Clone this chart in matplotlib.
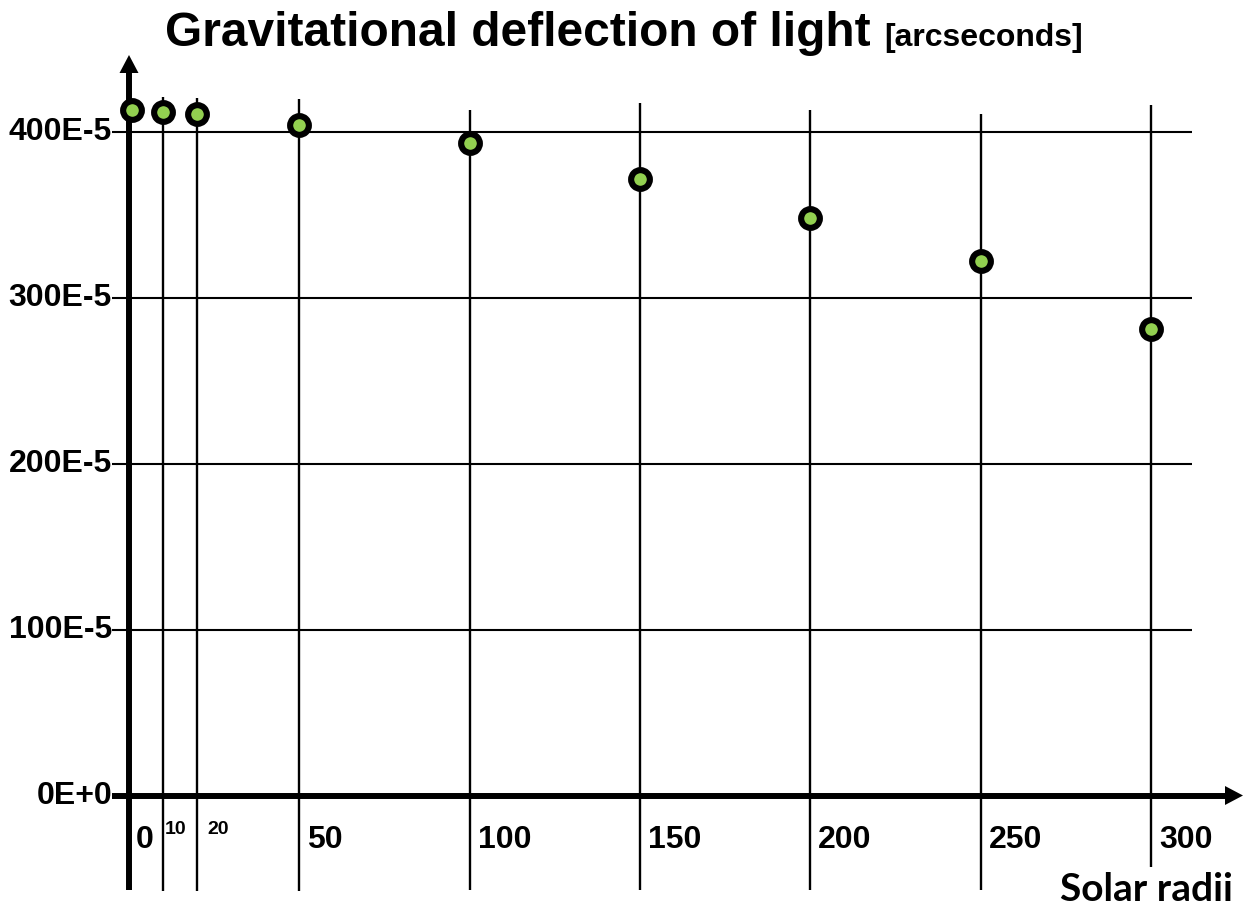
import matplotlib
matplotlib.use('Agg')
import matplotlib.pyplot as plt
from matplotlib.transforms import offset_copy

# ---- data (deflection in units of 1E-5 arcseconds) ----
x_radii = [1, 10, 20, 50, 100, 150, 200, 250, 300]
deflection = [413.2, 412.0, 411.0, 404.2, 393.7, 371.6, 348.4, 322.2, 281.1]
y_ticks = [0, 100, 200, 300, 400]
y_tick_labels = ['0E+0', '100E-5', '200E-5', '300E-5', '400E-5']
x_lines = [10, 20, 50, 100, 150, 200, 250, 300]
x_tick_values = [0, 10, 20, 50, 100, 150, 200, 250, 300]
x_tick_labels = ['0', '10', '20', '50', '100', '150', '200', '250', '300']

W, H, DPI = 1252, 908, 100
fig = plt.figure(figsize=(W / DPI, H / DPI), dpi=DPI)
ax = fig.add_axes([0, 0, 1, 1])

# linear pixel mapping of the hand-drawn axes
X0, SX = 129.0, 3.4067
Y0, SY = 795.5, 1.658
ax.set_xlim(-X0 / SX, (W - X0) / SX)
ax.set_ylim((Y0 - H) / SY, Y0 / SY)
ax.axis('off')


def dx(px):
    return (px - X0) / SX


def dy(py):
    return (Y0 - py) / SY


FONT = ['Liberation Sans', 'DejaVu Sans']
THIN = 1.5
THICK = 4.3

# horizontal grid lines
ax.hlines(y_ticks[1:], dx(112), dx(1192), color='black', lw=THIN, zorder=1)
# vertical lines
tops = [97, 98, 99, 110, 103, 110, 114, 105]
bottoms = [891, 891, 891, 890, 890, 890, 890, 867]
for xv, t, b in zip(x_lines, tops, bottoms):
    ax.vlines(xv, dy(b), dy(t), color='black', lw=1.7, zorder=1)

# y axis with arrow
ax.plot([0, 0], [dy(890), dy(70)], color='black', lw=THICK, solid_capstyle='butt', zorder=3)
ax.fill([dx(119.5), dx(138.5), dx(129)], [dy(73), dy(73), dy(55)], color='black', zorder=3, lw=0)
# x axis with arrow
ax.plot([dx(112), dx(1226)], [0, 0], color='black', lw=THICK, solid_capstyle='butt', zorder=3)
ax.fill([dx(1225), dx(1225), dx(1243)], [dy(Y0 - 9.5), dy(Y0 + 9.5), dy(Y0)], color='black', zorder=3, lw=0)

# data points
ax.plot(x_radii, deflection, linestyle='none', marker='o', ms=13.5,
        mfc='#92D050', mec='black', mew=4.4, zorder=5, clip_on=False)

# y tick labels
for yv, lab in zip(y_ticks, y_tick_labels):
    ax.text(dx(112), yv, lab, ha='right', va='center', fontsize=23,
            fontweight='bold', family=FONT, zorder=4)

# x tick labels
offsets = [7, 2, 10, 8, 8, 8, 8, 8, 8]
sizes = [23, 14, 14, 23, 23, 23, 23, 23, 23]
ycent = [840, 830, 830, 840, 840, 840, 840, 840, 840]
for xv, lab, off, fs, yc in zip(x_tick_values, x_tick_labels, offsets, sizes, ycent):
    tr = offset_copy(ax.transData, fig=fig, x=off, y=0, units='dots')
    ax.text(xv, dy(yc), lab, ha='left', va='center', fontsize=fs,
            fontweight='bold', family=FONT, transform=tr)

# axis title
fig.text(1233 / W, 1 - 901 / H, 'Solar radii', ha='right', va='baseline',
         fontsize=28, fontweight='bold', family=['Lato', 'DejaVu Sans'])

# chart title
fig.text(165 / W, 1 - 46 / H, 'Gravitational deflection of light', ha='left',
         va='baseline', fontsize=34.5, fontweight='bold', family=FONT)
fig.text(884 / W, 1 - 46 / H, '[arcseconds]', ha='left', va='baseline',
         fontsize=23, fontweight='bold', family=FONT)

fig.savefig('out.png', dpi=DPI)
